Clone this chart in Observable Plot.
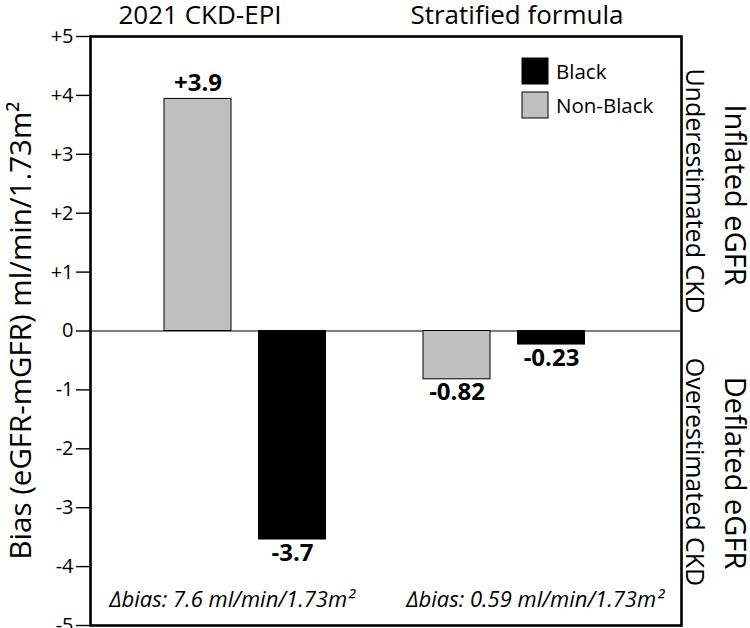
<!DOCTYPE html>
<html><head><meta charset="utf-8">
<script src="https://cdn.jsdelivr.net/npm/d3@7"></script>
<script src="https://cdn.jsdelivr.net/npm/@observablehq/plot@0.6"></script>
<style>
body{margin:0;background:#fff;}
#chart{position:relative;width:750px;height:628px;font-family:"Open Sans",sans-serif;}
#chart svg{position:absolute;left:0;top:0;overflow:visible;background:transparent}
</style></head><body><div id="chart"></div>
<script>
// ---- data ----
const formulas = ["2021 CKD-EPI", "Stratified formula"];
const races = ["Non-Black", "Black"];
const barFormula = ["2021 CKD-EPI", "2021 CKD-EPI", "Stratified formula", "Stratified formula"];
const barRace = ["Non-Black", "Black", "Non-Black", "Black"];
const barBias = [3.94, -3.54, -0.82, -0.23];
const barLabels = ["+3.9", "-3.7", "-0.82", "-0.23"];
const yTicks = [-5, -4, -3, -2, -1, 0, 1, 2, 3, 4, 5];
const yTickLabels = ["-5", "-4", "-3", "-2", "-1", "0", "+1", "+2", "+3", "+4", "+5"];
const deltaBias = ["\u2206bias: 7.6 ml/min/1.73m\u00B2", "\u2206bias: 0.59 ml/min/1.73m\u00B2"];
const yTitle = "Bias (eGFR-mGFR) ml/min/1.73m\u00B2";
const sideOuter = ["Inflated eGFR", "Deflated eGFR"];
const sideInner = ["Underestimated CKD", "Overestimated CKD"];

const bars = barBias.map((v, i) => ({formula: barFormula[i], race: barRace[i], bias: v, label: barLabels[i]}));

const W = 750, H = 628;
const M = {top: 36, right: 69, bottom: 3, left: 90};
const font = "'Open Sans', sans-serif";

// ---- base: frame, y axis, zero line ----
const base = Plot.plot({
  width: W, height: H,
  marginTop: M.top, marginRight: M.right, marginBottom: M.bottom, marginLeft: M.left,
  style: {fontFamily: font, fontSize: "20px", color: "#000", background: "transparent"},
  y: {domain: [-5, 5]},
  marks: [
    Plot.ruleY([0], {stroke: "#000", strokeWidth: 1.2}),
    Plot.axisY({ticks: yTicks, tickFormat: d => yTickLabels[yTicks.indexOf(d)], tickSize: 14, tickPadding: 3, strokeWidth: 1.4, label: null, fontSize: 20}),
    Plot.frame({stroke: "#000", strokeWidth: 2.6})
  ]
});

// ---- bars (faceted by formula) ----
const barsPlot = Plot.plot({
  width: W, height: H,
  marginTop: M.top, marginRight: M.right, marginBottom: M.bottom, marginLeft: M.left,
  style: {fontFamily: font, color: "#000", background: "transparent"},
  fx: {domain: formulas, range: [164, 584.5], paddingInner: 0.3764, paddingOuter: 0, round: false, axis: null},
  x: {domain: races, paddingInner: 0.291, paddingOuter: 0, round: false, axis: null},
  y: {domain: [-5, 5], axis: null},
  color: {domain: races, range: ["#c0c0c0", "#000000"]},
  marks: [
    Plot.barY(bars, {fx: "formula", x: "race", y: "bias", fill: "race", stroke: "#000", strokeWidth: 1}),
    Plot.text(bars, {filter: d => d.bias > 0, fx: "formula", x: "race", y: "bias", text: "label", lineAnchor: "bottom", dy: -8, fontSize: 24, fontWeight: "bold"}),
    Plot.text(bars, {filter: d => d.bias < 0, fx: "formula", x: "race", y: "bias", text: "label", lineAnchor: "top", dy: 4, fontSize: 24, fontWeight: "bold"})
  ]
});

const chart = document.getElementById("chart");
chart.appendChild(base);
chart.appendChild(barsPlot);

// ---- annotations ----
const svg = d3.select(barsPlot);
const ys = base.scale("y");
const ann = svg.append("g").attr("font-family", font).attr("fill", "#000").attr("text-anchor", "start");

// group titles
const titleX = [200, 517];
formulas.forEach((f, i) => ann.append("text").attr("x", titleX[i]).attr("y", 24)
  .attr("text-anchor", "middle").attr("font-size", 26).text(f));

// delta bias
const dX = [232, 535];
deltaBias.forEach((t, i) => ann.append("text").attr("x", dX[i]).attr("y", 607)
  .attr("text-anchor", "middle").attr("font-size", 22).attr("font-style", "italic").text(t));

// y title
ann.append("text").attr("transform", `translate(19,${ys.apply(0)}) rotate(-90)`)
  .attr("text-anchor", "middle").attr("dominant-baseline", "central").attr("font-size", 29.5).text(yTitle);

// side labels
const outerMid = [195, 473];
const innerMid = [191, 472];
[0, 1].forEach(i => {
  ann.append("text").attr("transform", `translate(736,${outerMid[i]}) rotate(90)`)
    .attr("text-anchor", "middle").attr("dominant-baseline", "central").attr("font-size", 29).text(sideOuter[i]);
  ann.append("text").attr("transform", `translate(696,${innerMid[i]}) rotate(90)`)
    .attr("text-anchor", "middle").attr("dominant-baseline", "central").attr("font-size", 25).text(sideInner[i]);
});

// legend
const legColor = ["#000000", "#c0c0c0"];
const legLabel = ["Black", "Non-Black"];
const legY = [58, 92];
legLabel.forEach((l, i) => {
  ann.append("rect").attr("x", 522).attr("y", legY[i]).attr("width", 26).attr("height", 26)
    .attr("fill", legColor[i]).attr("stroke", "#000").attr("stroke-width", 1);
  ann.append("text").attr("x", 556).attr("y", legY[i] + 13).attr("dominant-baseline", "central")
    .attr("text-anchor", "start").attr("font-size", 20.5).text(l);
});
</script></body></html>
